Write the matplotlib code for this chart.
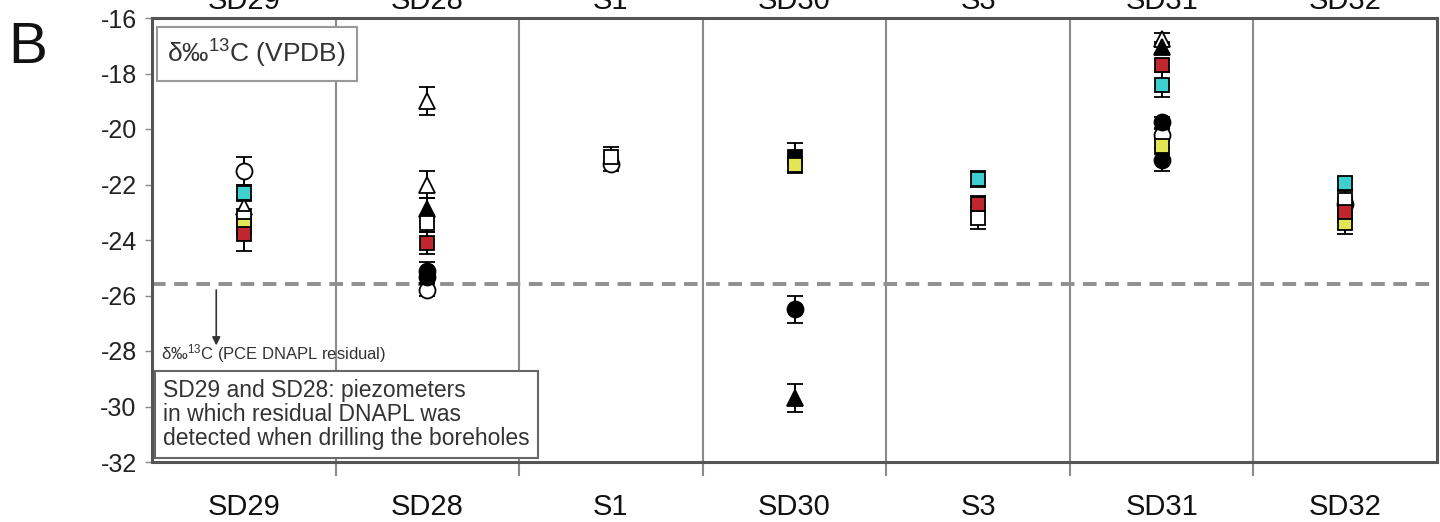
import numpy as np
import matplotlib
matplotlib.use("Agg")
import matplotlib.pyplot as plt

plt.rcParams['font.family'] = ['Liberation Sans', 'DejaVu Sans']
plt.rcParams['mathtext.fontset'] = 'custom'
plt.rcParams['mathtext.rm'] = 'Liberation Sans'
plt.rcParams['mathtext.it'] = 'Liberation Sans'

nan = np.nan
wells = ["SD29", "SD28", "S1", "SD30", "S3", "SD31", "SD32"]

# delta 13C values (per mil, VPDB) and analytical uncertainty per well
open_circle = [-21.5, -25.8, -21.25, nan, nan, -20.2, -22.7]
open_circle_err = [0.5, 0.2, 0.25, 0, 0, 0.2, 0.2]
filled_circle = [nan, -25.1, nan, -26.5, nan, -19.75, nan]
filled_circle_err = [0, 0.3, 0, 0.5, 0, 0.2, 0]
filled_circle_b = [nan, -25.35, nan, nan, nan, -21.1, nan]
filled_circle_b_err = [0, 0.2, 0, 0, 0, 0.4, 0]
open_triangle = [-22.8, -19.0, nan, nan, nan, -16.75, nan]
open_triangle_err = [0.3, 0.5, 0, 0, 0, 0.2, 0]
open_triangle_b = [nan, -22.0, nan, nan, nan, nan, nan]
open_triangle_b_err = [0, 0.5, 0, 0, 0, 0, 0]
filled_triangle = [nan, -22.9, nan, -29.7, nan, -17.05, nan]
filled_triangle_err = [0, 0.4, 0, 0.5, 0, 0.2, 0]
white_square = [-23.2, -23.4, -21.0, nan, -23.2, nan, -22.55]
white_square_err = [0.3, 0.3, 0.35, 0, 0.4, 0, 0.3]
black_square = [nan, nan, nan, -21.0, nan, nan, nan]
black_square_err = [0, 0, 0, 0.5, 0, 0, 0]
cyan_square = [-22.3, nan, nan, nan, -21.8, -18.4, -21.95]
cyan_square_err = [0.3, 0, 0, 0, 0.3, 0.45, 0.2]
red_square = [-23.8, -24.1, nan, nan, -22.7, -17.7, -23.0]
red_square_err = [0.6, 0.4, 0, 0, 0.3, 0.2, 0.3]
yellow_square = [-23.5, nan, nan, -21.3, nan, -20.6, -23.4]
yellow_square_err = [0.3, 0, 0, 0.3, 0, 0.3, 0.4]

dnapl_residual = -25.6
y_ticks = [-16, -18, -20, -22, -24, -26, -28, -30, -32]

fig = plt.figure(figsize=(14.4, 5.22), dpi=100)
ax = fig.add_axes([152 / 1440, 1 - 462 / 522, (1437 - 152) / 1440, (462 - 18) / 522])

x = np.arange(len(wells))

series = [
    (open_circle, open_circle_err, 'o', 'white', 11.5),
    (filled_circle, filled_circle_err, 'o', 'black', 11.5),
    (filled_circle_b, filled_circle_b_err, 'o', 'black', 11.5),
    (open_triangle, open_triangle_err, '^', 'white', 11.5),
    (open_triangle_b, open_triangle_b_err, '^', 'white', 11.5),
    (filled_triangle, filled_triangle_err, '^', 'black', 11.5),
    (white_square, white_square_err, 's', 'white', 9.5),
    (black_square, black_square_err, 's', 'black', 9.5),
    (cyan_square, cyan_square_err, 's', '#3ecfd0', 9.5),
    (yellow_square, yellow_square_err, 's', '#e2e655', 9.5),
    (red_square, red_square_err, 's', '#c0262e', 9.5),
]

for vals, errs, mk, fc, ms in series:
    v = np.array(vals, dtype=float)
    e = np.array(errs, dtype=float)
    ax.errorbar(x, v, yerr=e, fmt=mk, ms=ms, mfc=fc, mec='black', mew=1.3,
                ecolor='black', elinewidth=1.4, capsize=6, capthick=1.4, zorder=3)

# column separators
for b in x[:-1] + 0.5:
    ax.axvline(b, color='#8a8a8a', lw=1.5, zorder=1)

ax.axhline(dnapl_residual, color='#8f8f8f', lw=2.8, ls=(0, (3.5, 2.2)), zorder=2)

ax.set_xlim(-0.5, len(wells) - 0.5)
ax.set_ylim(-32, -16)
ax.set_yticks(y_ticks)
ax.set_yticklabels([str(t) for t in y_ticks], fontsize=18, color='#222222')
ax.set_xticks(x)
ax.set_xticklabels(wells, fontsize=21, color='#111111')
ax.tick_params(axis='x', length=0, pad=22)
ax.set_xticks(x[:-1] + 0.5, minor=True)
ax.tick_params(axis='x', which='minor', length=10, width=1.5, color='#8a8a8a', direction='out')
ax.tick_params(axis='y', length=5, width=1, color='#8a8a8a', direction='out', pad=6)
for s in ax.spines.values():
    s.set_color('#555555')
    s.set_linewidth(2.2)

# labels repeated along the top edge
for xi, w in zip(x, wells):
    ax.annotate(w, xy=(xi, 1.0), xycoords=('data', 'axes fraction'),
                xytext=(0, 12), textcoords='offset points', ha='center', va='center',
                fontsize=21, color='#111111', annotation_clip=False)

fig.text(8 / 1440, 1 - 48 / 522, "B", fontsize=42, va='center', ha='left', color='#111111')

ax.text(0.012, 0.955, r"δ‰$^{13}$C (VPDB)", transform=ax.transAxes, fontsize=19,
        va='top', ha='left', color='#333333',
        bbox=dict(boxstyle='square,pad=0.4', fc='white', ec='#999999', lw=1.5))

ax.annotate("", xy=(-0.15, -27.9), xytext=(-0.15, dnapl_residual - 0.1),
            arrowprops=dict(arrowstyle='-|>', color='#333333', lw=1.2, mutation_scale=12))
ax.text(-0.45, -28.5, r"δ‰$^{13}$C (PCE DNAPL residual)", fontsize=12,
        va='bottom', ha='left', color='#333333')
ax.text(-0.44, -30.3, "SD29 and SD28: piezometers\nin which residual DNAPL was\ndetected when drilling the boreholes",
        fontsize=16.5, va='center', ha='left', color='#333333', linespacing=1.05,
        bbox=dict(boxstyle='square,pad=0.35', fc='white', ec='#666666', lw=1.5))

fig.savefig("out.png", dpi=100)
